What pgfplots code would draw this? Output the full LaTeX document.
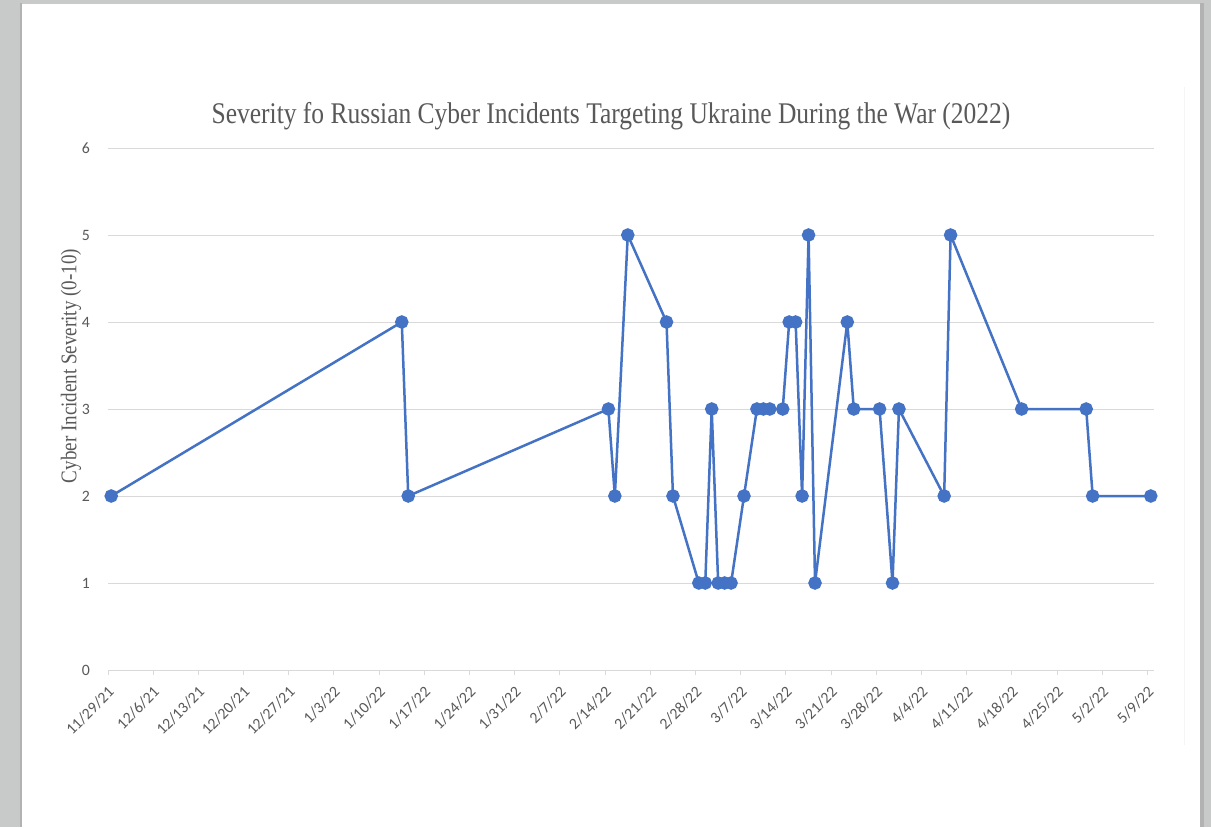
\documentclass[border=0pt]{standalone}
\usepackage{pgfplots}
\pgfplotsset{compat=1.18}
\usepackage{pgfplotstable}
\usepackage{fontspec}
\setmainfont{Liberation Serif}
\newfontfamily\titlefont[FakeStretch=0.85]{Liberation Serif}
\newfontfamily\labelfont{Carlito}

\definecolor{series}{HTML}{4472C4}
\definecolor{gridgray}{HTML}{D9D9D9}
\definecolor{textgray}{HTML}{595959}
\definecolor{desk}{HTML}{C8C9C9}

% Incident severity; day = days since 11/29/21
\pgfplotstableread{
day sev
0   2
45  4
46  2
77  3
78  2
80  5
86  4
87  2
91  1
92  1
93  3
94  1
95  1
96  1
98  2
100 3
101 3
102 3
104 3
105 4
106 4
107 2
108 5
109 1
114 4
115 3
119 3
121 1
122 3
129 2
130 5
141 3
151 3
152 2
161 2
}\incidents

\begin{document}
\begin{tikzpicture}
% page on grey desk
\useasboundingbox (0,0) rectangle (605.5pt,413.5pt);
\fill[desk] (0,0) rectangle (605.5pt,413.5pt);
\fill[black!30] (9.8pt,0) rectangle (11pt,411.8pt);
\fill[black!30] (600pt,0) rectangle (602pt,411.8pt);
\fill[white] (11pt,0) rectangle (600pt,411.5pt);
\draw[black!4, line width=0.5pt] (592pt,41pt) -- (592pt,370pt);

\begin{axis}[
  at={(54pt,78.5pt)}, anchor=south west,
  scale only axis, width=523pt, height=261pt,
  xmin=0, xmax=162, ymin=0, ymax=6,
  axis line style={draw=none},
  xtick={0,7,...,161},
  xticklabels={11/29/21,12/6/21,12/13/21,12/20/21,12/27/21,1/3/22,1/10/22,1/17/22,1/24/22,1/31/22,2/7/22,2/14/22,2/21/22,2/28/22,3/7/22,3/14/22,3/21/22,3/28/22,4/4/22,4/11/22,4/18/22,4/25/22,5/2/22,5/9/22},
  ytick={0,...,6},
  xtick pos=bottom, ytick pos=left,
  tick align=outside,
  major tick length=2.5pt,
  xtick style={draw=gridgray, line width=0.5pt},
  ytick style={draw=none},
  ymajorgrids,
  grid style={draw=gridgray, line width=0.5pt},
  ticklabel style={font=\labelfont\fontsize{7.9}{9}\selectfont, text=textgray},
  /pgf/number format/assume math mode=true,
  yticklabel style={xshift=-3pt},
  xticklabel style={rotate=45, anchor=east, inner sep=1pt, xshift=-2.8pt, yshift=-6.3pt},
  clip=false,
]
\addplot[series, line width=1.25pt, mark=*, mark size=2.75pt,
  mark options={fill=series, draw=series}]
  table[x expr=\thisrow{day}+0.5, y=sev] {\incidents};
\end{axis}

\node[text=textgray, font=\titlefont\fontsize{15}{18}\selectfont, anchor=base]
  at (305.5pt,352pt) {Severity fo Russian Cyber Incidents Targeting Ukraine During the War (2022)};
\node[text=textgray, font=\titlefont\fontsize{11.2}{13}\selectfont, rotate=90]
  at (35.5pt,230.5pt) {Cyber Incident Severity (0-10)};
\end{tikzpicture}
\end{document}
